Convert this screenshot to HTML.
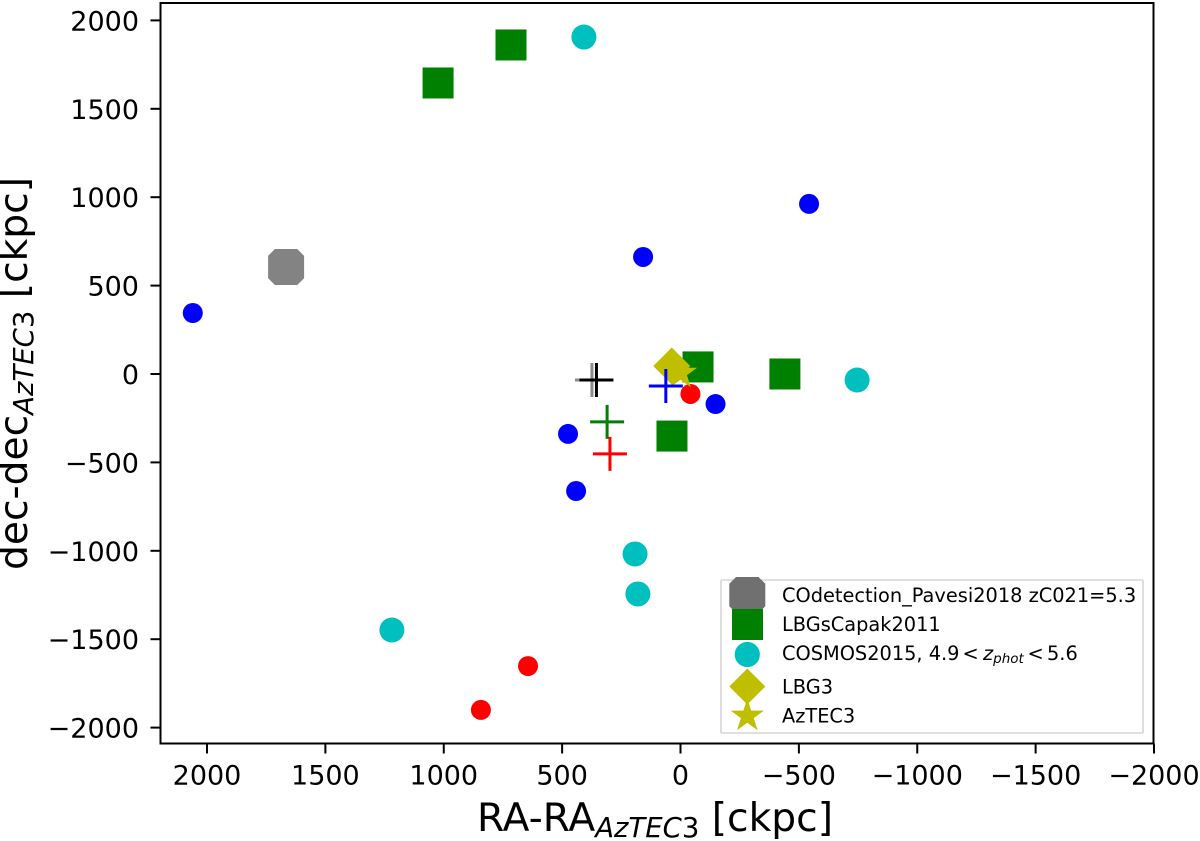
<!DOCTYPE html>
<html>
<head>
<meta charset="utf-8">
<title>AzTEC3 field map</title>
<style>
html,body{margin:0;padding:0;background:#fff;}
svg{display:block;filter:blur(0.35px);}
text{font-family:"DejaVu Sans",sans-serif;fill:#000;}
</style>
</head>
<body>
<svg id="chart" xmlns="http://www.w3.org/2000/svg" width="1200" height="841" viewBox="0 0 1200 841"></svg>
<script>
// Chart data (ckpc)
const xTicks = [2000, 1500, 1000, 500, 0, -500, -1000, -1500, -2000];
const yTicks = [2000, 1500, 1000, 500, 0, -500, -1000, -1500, -2000];
const grayX = [1666];
const grayY = [605];
const squareX = [716, 1024, -74, -441, 36];
const squareY = [1861, 1646, 40, 0, -351];
const cyanX = [408, -746, 192, 180, 1219];
const cyanY = [1906, -34, -1018, -1244, -1448];
const blueX = [-543, 158, 2060, -148, 475, 441];
const blueY = [962, 662, 345, -170, -339, -662];
const redX = [-42, 644, 843];
const redY = [-113, -1652, -1900];
const lbg3X = [37];
const lbg3Y = [45];
const aztec3X = [0];
const aztec3Y = [5];
const plusX = [374, 355, 62, 310, 298];
const plusY = [-34, -34, -68, -271, -452];
const plusColors = ['#8a8a8a', '#000000', '#0000ff', '#008000', '#ff0000'];

const svg = document.getElementById('chart');
const NS = 'http://www.w3.org/2000/svg';
const fx = v => 680.5 - v * 0.23675;
const fy = v => 374 - v * 0.1768;

function mk(tag, attrs, parent) {
  const el = document.createElementNS(NS, tag);
  for (const k in attrs) el.setAttribute(k, attrs[k]);
  (parent || svg).appendChild(el);
  return el;
}
function starPts(cx, cy, R) {
  const r = R * 0.382, p = [];
  for (let i = 0; i < 10; i++) {
    const a = -Math.PI / 2 + i * Math.PI / 5, q = i % 2 ? r : R;
    p.push((cx + q * Math.cos(a)).toFixed(1) + ',' + (cy + q * Math.sin(a)).toFixed(1));
  }
  return p.join(' ');
}
function octPts(cx, cy, R) {
  const c = R * 0.62, top = cy - R, bot = cy + R, l = cx - R, rt = cx + R;
  return [[cx - c, top], [cx + c, top], [rt, cy - c], [rt, cy + c], [cx + c, bot], [cx - c, bot], [l, cy + c], [l, cy - c]]
    .map(p => p[0].toFixed(1) + ',' + p[1].toFixed(1)).join(' ');
}
function diamondPts(cx, cy, R) {
  return [[cx, cy - R], [cx + R, cy], [cx, cy + R], [cx - R, cy]].map(p => p.join(',')).join(' ');
}

// Background
const bg = mk('rect', {x: 0, y: 0, width: 1200, height: 841, fill: '#fff'});



// Series
grayX.forEach((v, i) => {
  const el = mk('polygon', {points: octPts(fx(v), fy(grayY[i]), 18), fill: '#838383'});
  
  
});
squareX.forEach((v, i) => {
  const el = mk('rect', {x: fx(v) - 15.5, y: fy(squareY[i]) - 15.5, width: 31, height: 31, fill: '#008000'});
  
  
});
cyanX.forEach((v, i) => {
  const el = mk('circle', {cx: fx(v), cy: fy(cyanY[i]), r: 12.5, fill: '#00bfbf'});
  
  
});
blueX.forEach((v, i) => {
  const el = mk('circle', {cx: fx(v), cy: fy(blueY[i]), r: 10, fill: '#0000ff'});
  
  
});
redX.forEach((v, i) => {
  const el = mk('circle', {cx: fx(v), cy: fy(redY[i]), r: 10, fill: '#ff0000'});
  
  
});
lbg3X.forEach((v, i) => {
  const el = mk('polygon', {points: diamondPts(fx(v), fy(lbg3Y[i]), 18.5), fill: '#bfbf00'});
  
  
});
aztec3X.forEach((v, i) => {
  const el = mk('polygon', {points: starPts(fx(v), fy(aztec3Y[i]), 17.5), fill: '#bfbf00'});
  
  
});
plusX.forEach((v, i) => {
  const cx = fx(v), cy = fy(plusY[i]);
  const el = mk('path', {d: 'M' + (cx - 17) + ' ' + cy + 'H' + (cx + 17) + 'M' + cx + ' ' + (cy - 17) + 'V' + (cy + 17), stroke: plusColors[i], 'stroke-width': 3, fill: 'none'});
  
  
});

// Axes frame
const frame = mk('rect', {x: 160.5, y: 3, width: 993, height: 740.5, fill: 'none', stroke: '#000', 'stroke-width': 2});



// X ticks
xTicks.forEach(v => {
  const px = fx(v);
  const t = mk('line', {x1: px, x2: px, y1: 743.5, y2: 753.5, stroke: '#000', 'stroke-width': 2});
  
  
  const l = mk('text', {x: px, y: 784.5, 'font-size': 27, 'text-anchor': 'middle'});
  l.textContent = String(v).replace('-', '\u2212');
  
  
});
// Y ticks
yTicks.forEach(v => {
  const py = fy(v);
  const t = mk('line', {x1: 150.5, x2: 160.5, y1: py, y2: py, stroke: '#000', 'stroke-width': 2});
  
  
  const l = mk('text', {x: 139, y: py + 10, 'font-size': 27, 'text-anchor': 'end'});
  l.textContent = String(v).replace('-', '\u2212');
  
  
});

// Axis titles
const xTitle = mk('text', {x: 477, y: 831, 'font-size': 39.2});
xTitle.innerHTML = 'RA-RA<tspan font-size="27.5" font-style="italic" dy="6">AzTEC</tspan><tspan font-size="27.5" dy="0">3</tspan><tspan dy="-6"> [ckpc]</tspan>';



const yTitle = mk('text', {x: 0, y: 0, 'font-size': 39.2, transform: 'translate(27 570) rotate(-90)'});
yTitle.innerHTML = 'dec-dec<tspan font-size="27.5" font-style="italic" dy="6">AzTEC</tspan><tspan font-size="27.5" dy="0">3</tspan><tspan dy="-6"> [ckpc]</tspan>';



// Legend
const legend = mk('g', {});


const lbox = mk('rect', {x: 721, y: 580, width: 422, height: 153, fill: '#fff', stroke: '#d6d6d6', 'stroke-width': 1.6, rx: 1}, legend);



const m1 = mk('polygon', {points: octPts(747.3, 595, 18), fill: '#707070'}, legend);


const m2 = mk('rect', {x: 732, y: 609, width: 31, height: 31, fill: '#008000'}, legend);


const m3 = mk('circle', {cx: 747.3, cy: 654.5, r: 12.6, fill: '#00bfbf'}, legend);


const m4 = mk('polygon', {points: diamondPts(747.3, 686.5, 18), fill: '#bfbf00'}, legend);


const m5 = mk('polygon', {points: starPts(747.3, 716, 17.5), fill: '#bfbf00'}, legend);



const t1 = mk('text', {x: 782, y: 602, 'font-size': 19.35}, legend);
t1.textContent = 'COdetection_Pavesi2018 zC021=5.3';


const t2 = mk('text', {x: 782, y: 631, 'font-size': 19.35}, legend);
t2.textContent = 'LBGsCapak2011';


const t3 = mk('text', {x: 782, y: 660, 'font-size': 19.35}, legend);
t3.innerHTML = 'COSMOS2015, 4.9<tspan x="962.5">&lt;</tspan><tspan x="983" font-style="italic">z</tspan><tspan font-style="italic" font-size="13.5" dy="3">phot</tspan><tspan x="1027.5" dy="-3">&lt;</tspan><tspan x="1047">5.6</tspan>';


const t4 = mk('text', {x: 782, y: 693.5, 'font-size': 19.35}, legend);
t4.textContent = 'LBG3';


const t5 = mk('text', {x: 782, y: 722.5, 'font-size': 19.35}, legend);
t5.textContent = 'AzTEC3';


</script>
</body>
</html>
